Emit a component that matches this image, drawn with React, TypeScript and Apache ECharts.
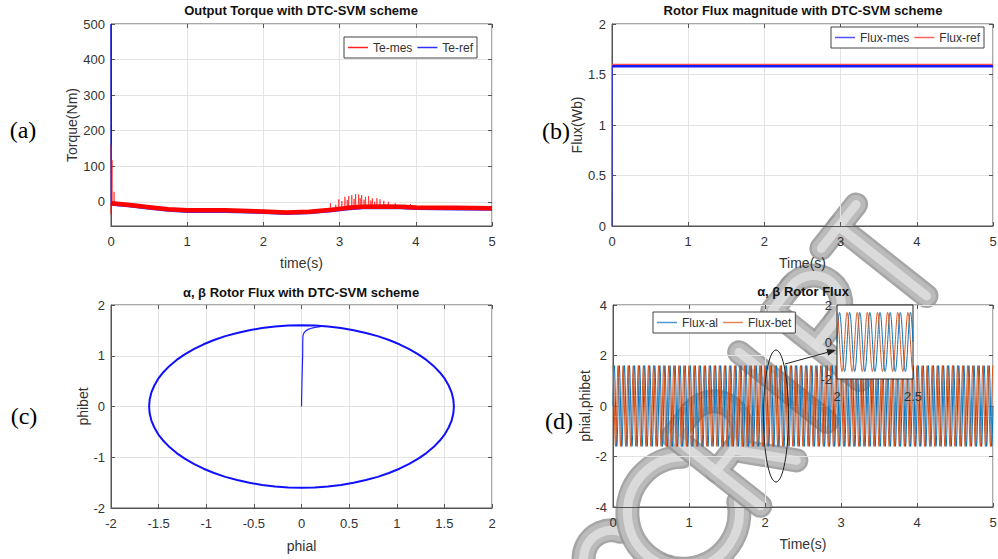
import React, { useEffect, useRef } from 'react';
import * as echarts from 'echarts';

// ---------- (a) Output torque ----------
const teRefTime = [0, 0.004, 0.25, 0.5, 0.75, 1.0, 1.5, 2.0, 2.3, 2.6, 2.9, 3.1, 3.3, 3.6, 3.8, 4.0, 4.5, 5.0];
const teRefValues = [500, -9, -14, -20, -26, -29, -29, -32, -35, -33, -27, -22, -19, -18, -19, -21, -22, -23];
const teMesTime = [0.004, 0.25, 0.5, 0.75, 1.0, 1.5, 2.0, 2.3, 2.6, 2.9, 3.1, 3.3, 3.6, 3.8, 4.0, 4.5, 5.0];
const teMesValues = [-4, -9, -15, -21, -24, -24, -27, -30, -28, -22, -17, -14, -13, -14, -16, -17, -18];
// start-up spikes of the measured torque
const teStartSpikeTime = [0.001, 0.003, 0.014, 0.04];
const teStartSpikePeak = [-35, 160, 117, 28];
const teStartSpikeBase = [-4, -4, -4, -5];
// ripple spikes around the load change (2.9 s - 3.9 s)
const teMidSpikeTime = [2.88, 2.95, 2.99, 3.03, 3.07, 3.1, 3.12, 3.16, 3.19, 3.21, 3.25, 3.27, 3.29, 3.32, 3.34, 3.38, 3.41, 3.43, 3.46, 3.49, 3.53, 3.58, 3.64, 3.73, 3.85, 3.93];
const teMidSpikePeak = [-4, -8, 7, 2, 14, 5, 16, 19, 8, 22, 21, 10, 19, 6, 14, 16, 4, 10, 0, 10, 7, 3, 0, -4, -8, -6];
const teMidSpikeBase = [-20, -19, -18, -17, -16, -16, -15, -15, -14, -14, -13, -13, -13, -13, -13, -13, -13, -13, -12, -12, -12, -12, -12, -13, -13, -14];
const torqueYTicks = [0, 100, 200, 300, 400, 500];

// ---------- (b) Rotor flux magnitude ----------
const fluxRiseTime = [0, 0.005];
const fluxRiseValues = [0, 1.585];
const fluxMesTime = [0.005, 5];
const fluxMesValues = [1.585, 1.585];
const fluxRefTime = [0, 5];
const fluxRefValues = [1.6, 1.6];

// ---------- (c)/(d) alpha-beta rotor flux ----------
// one electrical period of each component, 72 samples (amplitude ~1.6 Wb)
const fluxAlCycle = [
  0, 0.139, 0.278, 0.414, 0.547, 0.676, 0.8, 0.918, 1.028, 1.131, 1.226, 1.311, 1.386, 1.45, 1.504, 1.545, 1.576, 1.594,
  1.6, 1.594, 1.576, 1.545, 1.504, 1.45, 1.386, 1.311, 1.226, 1.131, 1.028, 0.918, 0.8, 0.676, 0.547, 0.414, 0.278, 0.139,
  0, -0.139, -0.278, -0.414, -0.547, -0.676, -0.8, -0.918, -1.028, -1.131, -1.226, -1.311, -1.386, -1.45, -1.504, -1.545, -1.576, -1.594,
  -1.6, -1.594, -1.576, -1.545, -1.504, -1.45, -1.386, -1.311, -1.226, -1.131, -1.028, -0.918, -0.8, -0.676, -0.547, -0.414, -0.278, -0.139,
];
const fluxBetCycle = [
  1.6, 1.594, 1.576, 1.545, 1.504, 1.45, 1.386, 1.311, 1.226, 1.131, 1.028, 0.918, 0.8, 0.676, 0.547, 0.414, 0.278, 0.139,
  0, -0.139, -0.278, -0.414, -0.547, -0.676, -0.8, -0.918, -1.028, -1.131, -1.226, -1.311, -1.386, -1.45, -1.504, -1.545, -1.576, -1.594,
  -1.6, -1.594, -1.576, -1.545, -1.504, -1.45, -1.386, -1.311, -1.226, -1.131, -1.028, -0.918, -0.8, -0.676, -0.547, -0.414, -0.278, -0.139,
  0, 0.139, 0.278, 0.414, 0.547, 0.676, 0.8, 0.918, 1.028, 1.131, 1.226, 1.311, 1.386, 1.45, 1.504, 1.545, 1.576, 1.594,
];
const fluxCyclesPerSecond = 15;
const startupAl = [0, 0.005, 0.012, 0.015, 0.03, 0.07, 0.13, 0.2];
const startupBet = [0, 0.5, 1.0, 1.38, 1.46, 1.52, 1.555, 1.575];

const FONT = "'Liberation Sans', Arial, sans-serif";
const AXC = '#555555';
const LBL = '#333333';
const GRIDC = '#e3e3e3';

function pairs(t: number[], v: number[]) {
  return t.map((x, i) => [x, v[i]]);
}

function spikes(times: number[], peaks: number[], bases: number[]) {
  const out: any[] = [];
  times.forEach((t, i) => {
    out.push([t - 0.004, bases[i]]);
    out.push([t, peaks[i]]);
    out.push([t + 0.004, bases[i]]);
  });
  return out;
}

// repeat the read period along the time axis (main plot uses every 3rd sample)
function wave(cycle: number[], t0: number, t1: number, stride: number) {
  const step = 1 / (fluxCyclesPerSecond * cycle.length);
  const n0 = Math.round(t0 / step);
  const n1 = Math.round(t1 / step);
  const out: any[] = [];
  for (let i = n0; i <= n1; i += stride) out.push([+(i * step).toFixed(6), cycle[i % cycle.length]]);
  return out;
}

function orbit() {
  const out: any[] = [];
  for (let k = 0; k <= fluxAlCycle.length; k++) {
    const j = k % fluxAlCycle.length;
    out.push([fluxAlCycle[j], fluxBetCycle[j]]);
  }
  return out;
}

const tickStyle = { show: true, inside: true, length: 4, lineStyle: { color: AXC } };

function xMain(gridIndex: number, min: number, max: number, interval: number, name: string, nameGap: number) {
  return {
    type: 'value', gridIndex, min, max, interval, position: 'bottom',
    name, nameLocation: 'middle', nameGap,
    nameTextStyle: { fontSize: 14, color: LBL, fontFamily: FONT },
    axisLine: { show: true, onZero: false, lineStyle: { color: AXC, width: 1 } },
    axisTick: tickStyle,
    axisLabel: { show: true, fontSize: 13, color: LBL, margin: 9, fontFamily: FONT },
    splitLine: { show: true, lineStyle: { color: GRIDC, width: 1 } },
  };
}
function xMirror(gridIndex: number, min: number, max: number, interval: number) {
  return {
    type: 'value', gridIndex, min, max, interval, position: 'top',
    axisLine: { show: false, onZero: false },
    axisTick: tickStyle,
    axisLabel: { show: false }, splitLine: { show: false },
  };
}
function yMain(gridIndex: number, min: number, max: number, interval: number | undefined, name: string, nameGap: number, extra: any = {}) {
  return {
    type: 'value', gridIndex, min, max, interval, position: 'left',
    name, nameLocation: 'middle', nameGap,
    nameTextStyle: { fontSize: 14, color: LBL, fontFamily: FONT },
    axisLine: { show: true, onZero: false, lineStyle: { color: AXC, width: 1 } },
    axisTick: tickStyle,
    axisLabel: { show: true, fontSize: 13, color: LBL, margin: 6, fontFamily: FONT },
    splitLine: { show: true, lineStyle: { color: GRIDC, width: 1 } },
    ...extra,
  };
}
function yMirror(gridIndex: number, min: number, max: number, interval: number | undefined, extra: any = {}) {
  return {
    type: 'value', gridIndex, min, max, interval, position: 'right',
    axisLine: { show: false, onZero: false },
    axisTick: tickStyle,
    axisLabel: { show: false }, splitLine: { show: false },
    ...extra,
  };
}

const gridBase = { show: true, borderColor: AXC, borderWidth: 1, backgroundColor: '#ffffff', containLabel: false, outerBoundsMode: 'none' };

function legendBox(names: string[], left: number, top: number) {
  return {
    data: names, left, top, orient: 'horizontal', selectedMode: false,
    backgroundColor: '#ffffff', borderColor: '#444', borderWidth: 1, borderRadius: 0,
    padding: [3, 4, 3, 4], icon: 'rect', itemWidth: 20, itemHeight: 1.5, itemGap: 5,
    textStyle: { fontSize: 12, color: LBL, fontFamily: FONT, lineHeight: 15 },
  };
}

// ---- watermark: tube-like letters drawn as strokes (layout only) ----
type Seg = { kind: 'line'; pts: number[][] } | { kind: 'arc'; cx: number; cy: number; r: number; a0: number; a1: number };
const deg = (d: number) => (d * Math.PI) / 180;
const LETTER_SHAPES: Record<string, Seg[]> = {
  S: [
    { kind: 'arc', cx: 0, cy: -28, r: 28, a0: deg(90), a1: deg(340) },
    { kind: 'arc', cx: 0, cy: 28, r: 28, a0: deg(270), a1: deg(520) },
  ],
  C: [{ kind: 'arc', cx: 0, cy: 0, r: 56, a0: deg(40), a1: deg(320) }],
  R: [
    { kind: 'line', pts: [[-27, 56], [-27, -56], [4, -56]] },
    { kind: 'arc', cx: 4, cy: -28, r: 28, a0: deg(270), a1: deg(450) },
    { kind: 'line', pts: [[4, 0], [-27, 0]] },
    { kind: 'line', pts: [[0, 0], [31, 56]] },
  ],
  I: [{ kind: 'line', pts: [[0, -56], [0, 56]] }],
  P: [
    { kind: 'line', pts: [[-27, 56], [-27, -56], [4, -56]] },
    { kind: 'arc', cx: 4, cy: -28, r: 28, a0: deg(270), a1: deg(450) },
    { kind: 'line', pts: [[4, 0], [-27, 0]] },
  ],
  T: [
    { kind: 'line', pts: [[-28, -56], [28, -56]] },
    { kind: 'line', pts: [[0, -56], [0, 56]] },
  ],
};
const TUBE_LAYERS = [
  { w: 24, c: 'rgba(150,150,150,0.85)' },
  { w: 19, c: 'rgba(190,190,190,0.9)' },
  { w: 9, c: 'rgba(222,222,222,0.9)' },
];

function watermark() {
  const step = [49.8, -62.9];
  const iCenter = [783, 387];
  return ['S', 'C', 'R', 'I', 'P', 'T'].map((ch, i) => {
    const children: any[] = [];
    TUBE_LAYERS.forEach((layer) => {
      LETTER_SHAPES[ch].forEach((s) => {
        const style = { stroke: layer.c, lineWidth: layer.w, fill: 'none', lineCap: 'round', lineJoin: 'round' };
        if (s.kind === 'line') children.push({ type: 'polyline', shape: { points: s.pts }, style });
        else children.push({ type: 'arc', shape: { cx: s.cx, cy: s.cy, r: s.r, startAngle: s.a0, endAngle: s.a1, clockwise: true }, style });
      });
    });
    return {
      type: 'group', z: 100, silent: true,
      x: iCenter[0] + (i - 3) * step[0],
      y: iCenter[1] + (i - 3) * step[1],
      rotation: deg(51.6),
      children,
    };
  });
}

function buildOption() {
  const titleStyle = { fontSize: 13, fontWeight: 'bold', color: '#111', fontFamily: FONT };
  const panelLabels = [
    ['(a)', 23, 130], ['(b)', 556, 131], ['(c)', 24, 416], ['(d)', 559, 421],
  ].map(([t, x, y]) => ({
    type: 'text', x, y, z: 20,
    style: { text: t, fontSize: 24, fontFamily: "'Liberation Serif', 'Times New Roman', serif", fill: '#000', align: 'center', verticalAlign: 'middle' },
  }));

  return {
    animation: false,
    backgroundColor: '#ffffff',
    textStyle: { fontFamily: FONT },
    title: [
      { text: 'Output Torque with DTC-SVM scheme', left: 301, top: 4, textAlign: 'center', padding: 0, textStyle: titleStyle },
      { text: 'Rotor Flux magnitude with DTC-SVM scheme', left: 803, top: 4, textAlign: 'center', padding: 0, textStyle: titleStyle },
      { text: 'α, β Rotor Flux with DTC-SVM scheme', left: 301, top: 286, textAlign: 'center', padding: 0, textStyle: titleStyle },
      { text: 'α, β Rotor Flux', left: 803, top: 285, textAlign: 'center', padding: 0, textStyle: titleStyle },
    ],
    legend: [
      legendBox(['Te-mes', 'Te-ref'], 344, 37),
      legendBox(['Flux-mes', 'Flux-ref'], 831, 27),
      legendBox(['Flux-al', 'Flux-bet'], 653, 312),
    ],
    grid: [
      { ...gridBase, left: 111, top: 24, width: 381, height: 202 },
      { ...gridBase, left: 612, top: 24, width: 381, height: 202 },
      { ...gridBase, left: 111, top: 305, width: 381, height: 203 },
      { ...gridBase, left: 613, top: 305, width: 380, height: 202 },
      { ...gridBase, left: 837, top: 305, width: 76, height: 74, z: 10, borderColor: '#222' },
    ],
    xAxis: [
      xMain(0, 0, 5, 1, 'time(s)', 30),
      xMain(1, 0, 5, 1, 'Time(s)', 30),
      xMain(2, -2, 2, 0.5, 'phial', 31),
      xMain(3, 0, 5, 1, 'Time(s)', 30),
      {
        type: 'value', gridIndex: 4, min: 2, max: 2.5, interval: 0.5, z: 12,
        axisLine: { show: false, onZero: false }, axisTick: { show: false },
        axisLabel: { show: true, fontSize: 13, color: LBL, margin: 11, fontFamily: FONT },
        splitLine: { show: false },
      },
      xMirror(0, 0, 5, 1),
      xMirror(1, 0, 5, 1),
      xMirror(2, -2, 2, 0.5),
      xMirror(3, 0, 5, 1),
    ],
    yAxis: [
      yMain(0, -68, 500, undefined, 'Torque(Nm)', 29, {
        splitNumber: 6,
        axisLabel: { show: true, fontSize: 13, color: LBL, margin: 6, fontFamily: FONT, customValues: torqueYTicks },
        axisTick: { ...tickStyle, customValues: torqueYTicks },
      }),
      yMain(1, 0, 2, 0.5, 'Flux(Wb)', 25),
      yMain(2, -2, 2, 1, 'phibet', 20),
      yMain(3, -4, 4, 2, 'phial,phibet', 20),
      {
        type: 'value', gridIndex: 4, min: -2, max: 2, interval: 2, z: 12,
        axisLine: { show: false, onZero: false }, axisTick: { show: false },
        axisLabel: { show: true, fontSize: 13, color: LBL, margin: 5, fontFamily: FONT },
        splitLine: { show: false },
      },
      yMirror(0, -68, 500, undefined, { splitNumber: 6, axisTick: { ...tickStyle, customValues: torqueYTicks } }),
      yMirror(1, 0, 2, 0.5),
      yMirror(2, -2, 2, 1),
      yMirror(3, -4, 4, 2),
    ],
    series: [
      // (a)
      { name: 'Te-mes', type: 'line', xAxisIndex: 0, yAxisIndex: 0, data: pairs(teMesTime, teMesValues), symbol: 'none', lineStyle: { color: '#ff0000', width: 4.5 }, itemStyle: { color: '#ff2020' }, z: 3 },
      { name: 'Te-mes', type: 'line', xAxisIndex: 0, yAxisIndex: 0, data: spikes(teStartSpikeTime, teStartSpikePeak, teStartSpikeBase), symbol: 'none', lineStyle: { color: 'rgba(255,0,0,0.6)', width: 1 }, itemStyle: { color: '#ff2020' }, z: 3 },
      { name: 'Te-mes', type: 'line', xAxisIndex: 0, yAxisIndex: 0, data: spikes(teMidSpikeTime, teMidSpikePeak, teMidSpikeBase), symbol: 'none', lineStyle: { color: 'rgba(255,0,0,0.6)', width: 1 }, itemStyle: { color: '#ff2020' }, z: 3 },
      { name: 'Te-ref', type: 'line', xAxisIndex: 0, yAxisIndex: 0, data: pairs(teRefTime, teRefValues), symbol: 'none', lineStyle: { color: 'rgba(0,0,255,0.8)', width: 1.5 }, itemStyle: { color: '#3030ff' }, z: 2 },
      // (b)
      { name: 'Flux-mes', type: 'line', xAxisIndex: 1, yAxisIndex: 1, data: pairs(fluxRiseTime, fluxRiseValues), symbol: 'none', lineStyle: { color: 'rgba(40,40,255,0.7)', width: 1.2 }, itemStyle: { color: '#5050ff' }, z: 2 },
      { name: 'Flux-mes', type: 'line', xAxisIndex: 1, yAxisIndex: 1, data: pairs(fluxMesTime, fluxMesValues), symbol: 'none', lineStyle: { color: '#1a1aff', width: 3 }, itemStyle: { color: '#5050ff' }, z: 2 },
      { name: 'Flux-ref', type: 'line', xAxisIndex: 1, yAxisIndex: 1, data: pairs(fluxRefTime, fluxRefValues), symbol: 'none', lineStyle: { color: '#ff5050', width: 1.2 }, itemStyle: { color: '#ff6060' }, z: 3 },
      // (c)
      { name: 'startup', type: 'line', xAxisIndex: 2, yAxisIndex: 2, data: pairs(startupAl, startupBet), symbol: 'none', smooth: 0.3, lineStyle: { color: '#2020ff', width: 1.2 }, z: 2 },
      { name: 'orbit', type: 'line', xAxisIndex: 2, yAxisIndex: 2, data: orbit(), symbol: 'none', lineStyle: { color: '#1010ff', width: 2 }, z: 2 },
      // (d)
      { name: 'Flux-al', type: 'line', xAxisIndex: 3, yAxisIndex: 3, data: wave(fluxAlCycle, 0, 5, 3), symbol: 'none', lineStyle: { color: '#0072BD', width: 1 }, itemStyle: { color: '#4a9ad6' }, z: 2 },
      { name: 'Flux-bet', type: 'line', xAxisIndex: 3, yAxisIndex: 3, data: wave(fluxBetCycle, 0, 5, 3), symbol: 'none', lineStyle: { color: '#D95319', width: 1 }, itemStyle: { color: '#e8845a' }, z: 2 },
      // inset
      { name: 'Flux-al', type: 'line', xAxisIndex: 4, yAxisIndex: 4, data: wave(fluxAlCycle, 2, 2.5, 1), symbol: 'none', lineStyle: { color: '#0072BD', width: 1 }, z: 12 },
      { name: 'Flux-bet', type: 'line', xAxisIndex: 4, yAxisIndex: 4, data: wave(fluxBetCycle, 2, 2.5, 1), symbol: 'none', lineStyle: { color: '#D95319', width: 1 }, z: 12 },
    ],
    graphic: [
      ...panelLabels,
      ...watermark(),
      { type: 'ellipse', z: 110, shape: { cx: 776, cy: 416, rx: 12.5, ry: 66 }, style: { fill: 'none', stroke: '#222', lineWidth: 1 } },
      { type: 'line', z: 110, shape: { x1: 785, y1: 364, x2: 827.3, y2: 352.4 }, style: { stroke: '#222', lineWidth: 1 } },
      { type: 'polygon', z: 110, shape: { points: [[836, 350], [828.2, 355.8], [826.4, 349.0]] }, style: { fill: '#222' } },
    ],
  };
}

export default function App() {
  const ref = useRef<HTMLDivElement>(null);
  useEffect(() => {
    if (!ref.current) return;
    const chart = echarts.init(ref.current, null, { renderer: 'svg' });
    chart.setOption(buildOption() as any);
    return () => chart.dispose();
  }, []);
  return (
    <div
      ref={ref}
      style={{ position: 'absolute', left: 0, top: 0, width: 998, height: 559, background: '#fff' }}
    />
  );
}
